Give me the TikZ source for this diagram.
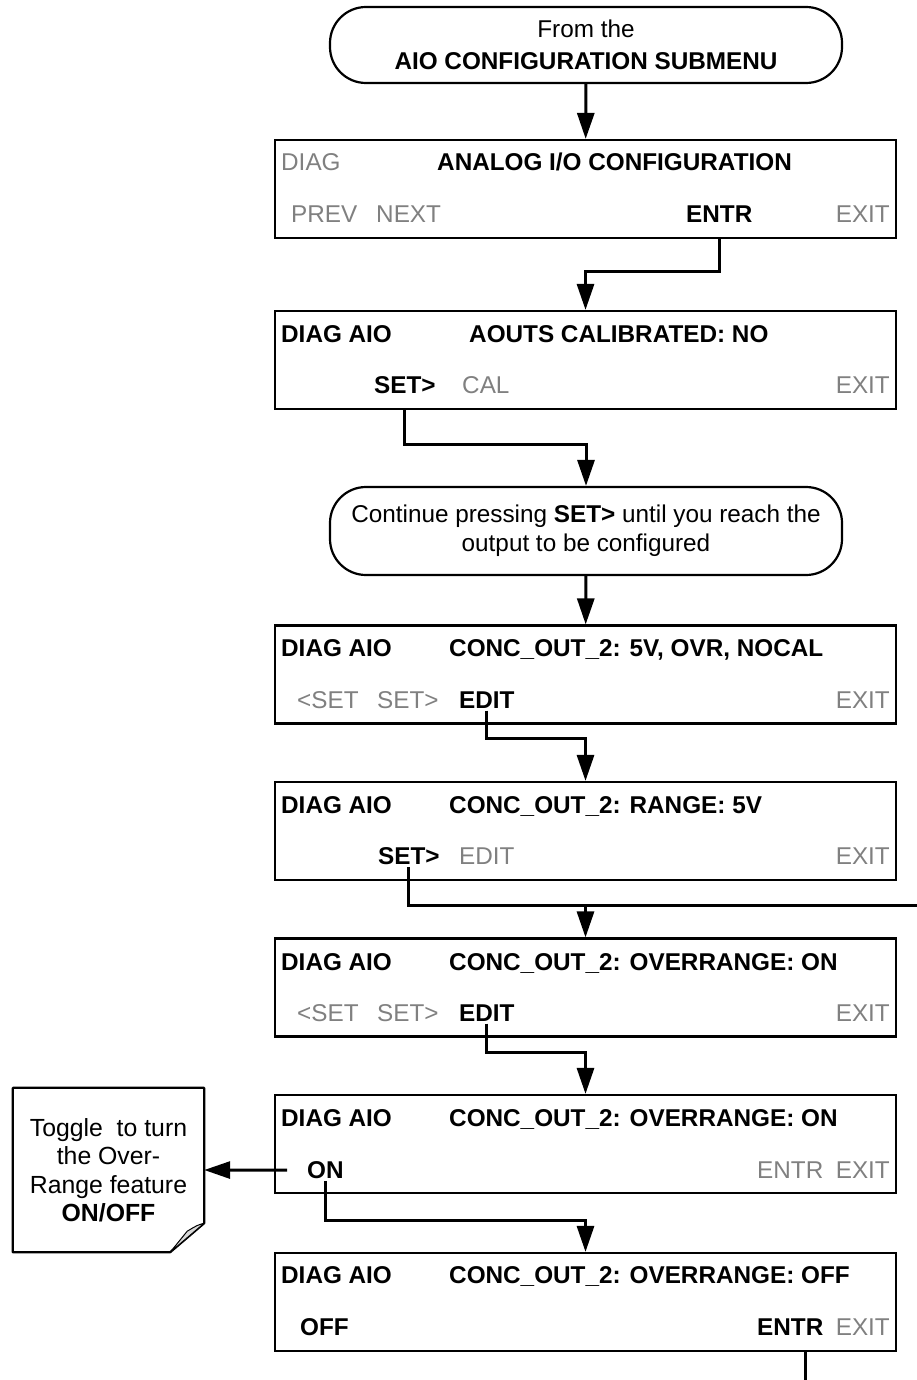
\documentclass[tikz,border=0pt]{standalone}
\usepackage{fontspec}
\setmainfont{Liberation Sans}
\usepackage{xcolor}
\definecolor{keygray}{RGB}{128,128,128}
\definecolor{curlgray}{RGB}{215,215,215}
\usetikzlibrary{positioning, arrows.meta}
\newcommand{\panelfont}{\fontsize{24.3}{29}\selectfont}

\begin{document}
\begin{tikzpicture}[x=1pt, y=-1pt,
  screen/.style={rectangle, draw, line width=2.2pt, minimum width=621pt, minimum height=98pt, inner sep=0pt},
  term/.style={rectangle, draw, line width=2.2pt, rounded corners=36pt, minimum width=512pt, align=center, font=\panelfont},
  notebox/.style={rectangle, minimum width=191pt, minimum height=164pt, align=center, font=\fontsize{24.8}{28.5}\selectfont},
  key/.style={anchor=base west, inner sep=2pt, font=\panelfont\bfseries},
  dim/.style={anchor=base west, inner sep=2pt, font=\panelfont, text=keygray},
  flow/.style={line width=3pt, -{Triangle[length=26pt, width=17pt]}},
  wire/.style={line width=3pt}
]
\useasboundingbox (0,0) rectangle (917,1380);

% entry point
\node[term, minimum height=76pt] (t1) at (586,45) {From the\\[3pt]\textbf{AIO CONFIGURATION SUBMENU}};

% analog i/o configuration
\node[screen] (s1) at (585.5,189) {};
\node[dim] (diag1) at (279,170.5) {DIAG};
\node[key] (title1) at (435,170.5) {ANALOG I/O CONFIGURATION};
\node[dim] (prev1) at (289,222.5) {PREV};
\node[dim] (next1) at (374,222.5) {NEXT};
\node[key] (entr1) at (684,222.5) {ENTR};
\node[dim, anchor=base east] (exit1) at (892,222.5) {EXIT};

% calibration status
\node[screen] (s2) at (585.5,360) {};
\node[key] (diag2) at (279,342.5) {DIAG AIO};
\node[key] (title2) at (467,342.5) {AOUTS CALIBRATED: NO};
\node[key] (set2) at (372,393.5) {SET>};
\node[dim] (cal2) at (460,393.5) {CAL};
\node[dim, anchor=base east] (exit2) at (892,393.5) {EXIT};

\node[term, minimum height=88pt] (t2) at (586,531) {Continue pressing \textbf{SET>} until you reach the\\output to be configured};

% output summary
\node[screen] (s3) at (585.5,674.5) {};
\node[key] (diag3) at (279,656.5) {DIAG AIO};
\node[key] (title3) at (447,656.5) {CONC\_OUT\_2: 5V, OVR, NOCAL};
\node[dim] (prev3) at (295,708.5) {<SET};
\node[dim] (next3) at (375,708.5) {SET>};
\node[key] (edit3) at (457,708.5) {EDIT};
\node[dim, anchor=base east] (exit3) at (892,708.5) {EXIT};

% range
\node[screen] (s4) at (585.5,831) {};
\node[key] (diag4) at (279,813.5) {DIAG AIO};
\node[key] (title4) at (447,813.5) {CONC\_OUT\_2: RANGE: 5V};
\node[key] (set4) at (376,864.5) {SET>};
\node[dim] (edit4) at (457,864.5) {EDIT};
\node[dim, anchor=base east] (exit4) at (892,864.5) {EXIT};

% overrange
\node[screen] (s5) at (585.5,987.5) {};
\node[key] (diag5) at (279,970.5) {DIAG AIO};
\node[key] (title5) at (447,970.5) {CONC\_OUT\_2: OVERRANGE: ON};
\node[dim] (prev5) at (295,1021.5) {<SET};
\node[dim] (next5) at (375,1021.5) {SET>};
\node[key] (edit5) at (457,1021.5) {EDIT};
\node[dim, anchor=base east] (exit5) at (892,1021.5) {EXIT};

% toggle on
\node[screen] (s6) at (585.5,1144) {};
\node[key] (diag6) at (279,1126.5) {DIAG AIO};
\node[key] (title6) at (447,1126.5) {CONC\_OUT\_2: OVERRANGE: ON};
\node[key] (on6) at (305,1178.5) {ON};
\node[dim] (entr6) at (755,1178.5) {ENTR};
\node[dim, anchor=base east] (exit6) at (892,1178.5) {EXIT};

% toggle off
\node[screen] (s7) at (585.5,1302) {};
\node[key] (diag7) at (279,1283.5) {DIAG AIO};
\node[key] (title7) at (447,1283.5) {CONC\_OUT\_2: OVERRANGE: OFF};
\node[key] (off7) at (298,1335.5) {OFF};
\node[key] (entr7) at (755,1335.5) {ENTR};
\node[dim, anchor=base east] (exit7) at (892,1335.5) {EXIT};

% side note with folded corner
\node[notebox] (note) at (108.5,1170) {Toggle~ to turn\\the Over-\\Range feature\\\textbf{ON/OFF}};
\draw[line width=2.2pt, line join=round] (note.north west) -- (note.north east) -- ([yshift=29pt]note.south east) -- ([xshift=-34pt]note.south east) -- (note.south west) -- cycle;
\filldraw[fill=curlgray, line width=1pt, line join=round] ([yshift=29pt]note.south east) .. controls ([xshift=-7pt,yshift=27pt]note.south east) .. ([xshift=-17pt,yshift=21pt]note.south east) -- ([xshift=-34pt]note.south east) -- cycle;

% connectors
\coordinate (back) at (917,905);
\coordinate (onward) at (805,1380);
\draw[flow] (t1) -- (s1);
\draw[flow] (entr1 |- s1.south) -- ++(0,32) -| (s2.north);
\draw[flow] (set2 |- s2.south) -- ++(0,34) -| (t2.north);
\draw[flow] (t2) -- (s3);
\draw[flow] (edit3.south) -- ++(0,28) -| (s4.north);
\draw[wire] (set4.south) |- (back);
\draw[flow] (s5.north |- back) -- (s5.north);
\draw[flow] (edit5.south) -- ++(0,28.5) -| (s6.north);
\draw[flow] ([xshift=-18pt]on6.west) -- (note.east);
\draw[flow] (on6.south) -- ++(0,39.5) -| (s7.north);
\draw[wire] (onward |- s7.south) -- (onward);
\end{tikzpicture}
\end{document}
